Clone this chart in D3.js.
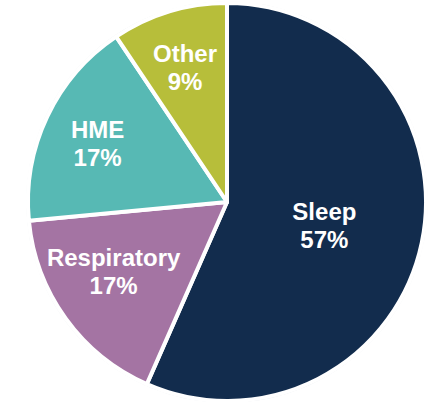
<!DOCTYPE html>
<html>
<head>
<meta charset="utf-8">
<script src="https://cdn.jsdelivr.net/npm/d3@7"></script>
<style>
  html, body { margin: 0; padding: 0; background: #fff; }
  svg { display: block; }
</style>
</head>
<body>
<div id="chart"></div>
<script>
const categories = ['Sleep', 'Respiratory', 'HME', 'Other'];
// shares; labels show them rounded
const shares = [56.6, 16.9, 17.1, 9.4];
const colors = ['#122c4d', '#a474a3', '#57b9b4', '#b7be3a'];

const width = 436;
const height = 402;
const cx = 227;
const cy = 202;
const radius = 199;

// label placement per slice: fraction of radius, angle nudge in degrees
const labelPlace = [
    { r: 0.5, da: 0 },
    { r: 0.66, da: 5.5 },
    { r: 0.72, da: 0 },
    { r: 0.725, da: 0 }
];

const data = categories.map((c, i) => ({ name: c, value: shares[i], color: colors[i], place: labelPlace[i] }));

const svg = d3.select('#chart')
    .append('svg')
    .attr('width', width)
    .attr('height', height);

const g = svg.append('g')
    .attr('transform', `translate(${cx},${cy})`);

const pie = d3.pie()
    .value(d => d.value)
    .sort(null);

const arc = d3.arc()
    .innerRadius(0)
    .outerRadius(radius);

const arcs = pie(data);

// faint outline round the whole pie
g.append('circle')
    .attr('r', radius + 1)
    .attr('fill', 'none')
    .attr('stroke', '#e4e8ec')
    .attr('stroke-width', 1.5);

g.selectAll('path')
    .data(arcs)
    .join('path')
    .attr('d', arc)
    .attr('fill', d => d.data.color)
    .attr('stroke', '#fff')
    .attr('stroke-width', 4)
    .attr('stroke-linejoin', 'round');

const labels = g.selectAll('text')
    .data(arcs)
    .join('text')
    .attr('transform', d => {
        const a = (d.startAngle + d.endAngle) / 2 + d.data.place.da * Math.PI / 180;
        const r = radius * d.data.place.r;
        return `translate(${Math.sin(a) * r},${-Math.cos(a) * r})`;
    })
    .attr('text-anchor', 'middle')
    .attr('fill', '#fff')
    .attr('font-family', 'Liberation Sans, Arial, sans-serif')
    .attr('font-weight', 'bold')
    .attr('font-size', '24px');

labels.append('tspan')
    .attr('x', 0)
    .attr('dy', '-0.1em')
    .text(d => d.data.name);

labels.append('tspan')
    .attr('x', 0)
    .attr('dy', '1.17em')
    .text(d => Math.round(d.data.value) + '%');
</script>
</body>
</html>
